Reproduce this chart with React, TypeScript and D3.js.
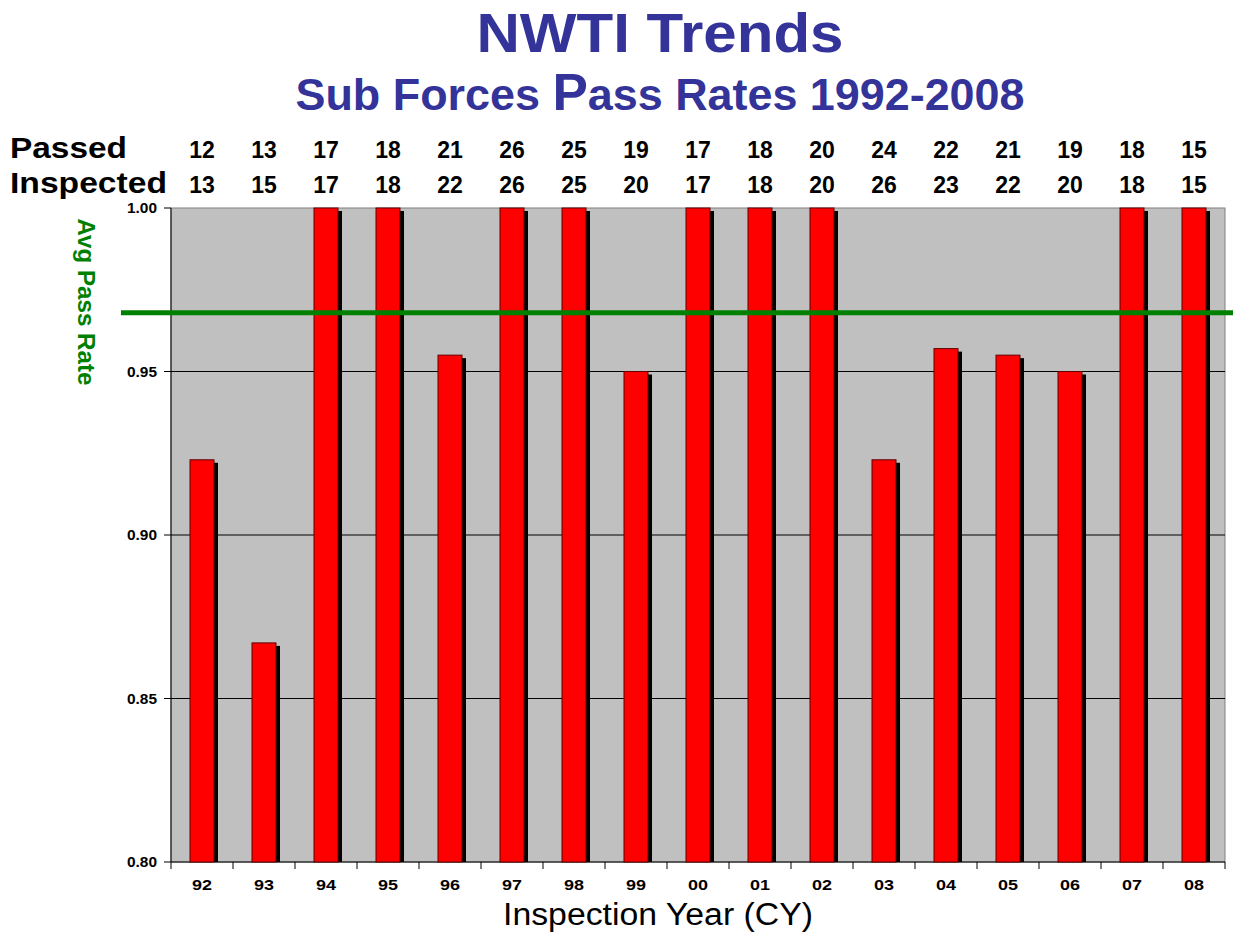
import React from "react";
import * as d3 from "d3";

const years = ["92","93","94","95","96","97","98","99","00","01","02","03","04","05","06","07","08"];
const passed = [12,13,17,18,21,26,25,19,17,18,20,24,22,21,19,18,15];
const inspected = [13,15,17,18,22,26,25,20,17,18,20,26,23,22,20,18,15];
const passRates = [0.923,0.867,1.0,1.0,0.955,1.0,1.0,0.95,1.0,1.0,1.0,0.923,0.957,0.955,0.95,1.0,1.0];
const avgPassRate = 0.968;
const yTicks = [0.8,0.85,0.9,0.95,1.0];

const W = 1233, H = 935;
const left = 171, right = 1225, top = 208, bottom = 862;
const font = "'Liberation Sans', Arial, sans-serif";
const navy = "#333399";

export default function App() {
  const x = d3.scaleBand<string>().domain(years).range([left, right]).padding(0);
  const y = d3.scaleLinear().domain([0.8, 1.0]).range([bottom, top]);
  const barW = 24;
  const step = x.step();
  return (
    <svg width={W} height={H} style={{ position: "absolute", left: 0, top: 0, background: "#fff" }} fontFamily={font}>
      {/* titles */}
      <text x={660} y={52} textAnchor="middle" fontSize={56} fontWeight="bold" fill={navy} textLength={367} lengthAdjust="spacingAndGlyphs">NWTI Trends</text>
      <text x={660} y={110} textAnchor="middle" fontSize={44} fontWeight="bold" fill={navy} textLength={729} lengthAdjust="spacingAndGlyphs">
        Sub Forces <tspan fontSize={52}>P</tspan>ass Rates 1992-2008
      </text>
      {/* table rows */}
      <text x={10} y={158} fontSize={29} fontWeight="bold" fill="#000" textLength={117} lengthAdjust="spacingAndGlyphs">Passed</text>
      <text x={10} y={193} fontSize={29} fontWeight="bold" fill="#000" textLength={157} lengthAdjust="spacingAndGlyphs">Inspected</text>
      {years.map((yr, i) => (
        <g key={"t" + yr}>
          <text x={(x(yr) as number) + step / 2} y={158} textAnchor="middle" fontSize={23} fontWeight="bold">{passed[i]}</text>
          <text x={(x(yr) as number) + step / 2} y={193} textAnchor="middle" fontSize={23} fontWeight="bold">{inspected[i]}</text>
        </g>
      ))}
      {/* plot background */}
      <rect x={left} y={top} width={right - left} height={bottom - top} fill="#c0c0c0" stroke="#808080" strokeWidth={1} />
      {/* gridlines */}
      {yTicks.filter(t => t > 0.8 && t < 1.0).map(t => (
        <line key={"g" + t} x1={left} x2={right} y1={y(t)} y2={y(t)} stroke="#000" strokeWidth={1} />
      ))}
      {/* y axis */}
      <line x1={left} x2={left} y1={top} y2={bottom} stroke="#000" strokeWidth={1} />
      {yTicks.map(t => (
        <g key={"yt" + t}>
          <line x1={left - 7} x2={left} y1={y(t)} y2={y(t)} stroke="#000" />
          <text x={157} y={y(t) + 5} textAnchor="end" fontSize={14} fontWeight="bold" textLength={30} lengthAdjust="spacingAndGlyphs">{t.toFixed(2)}</text>
        </g>
      ))}
      {/* x axis */}
      <line x1={left} x2={right} y1={bottom} y2={bottom} stroke="#000" strokeWidth={1} />
      {years.map((yr) => (
        <line key={"xt" + yr} x1={x(yr) as number} x2={x(yr) as number} y1={bottom} y2={bottom + 7} stroke="#000" />
      ))}
      <line x1={right} x2={right} y1={bottom} y2={bottom + 7} stroke="#000" />
      {years.map(yr => (
        <text key={"xl" + yr} x={(x(yr) as number) + step / 2} y={890} textAnchor="middle" fontSize={15} fontWeight="bold" textLength={20} lengthAdjust="spacingAndGlyphs">{yr}</text>
      ))}
      {/* bars */}
      {years.map((yr, i) => {
        const bx = (x(yr) as number) + (step - barW) / 2;
        const by = y(passRates[i]);
        return (
          <g key={"b" + yr}>
            <rect x={bx + 4} y={by + 3} width={barW} height={bottom - by - 3} fill="#000" />
            <rect x={bx} y={by} width={barW} height={bottom - by} fill="#ff0000" stroke="#600000" strokeWidth={1} />
          </g>
        );
      })}
      {/* average line */}
      <line x1={121} x2={W} y1={y(avgPassRate)} y2={y(avgPassRate)} stroke="#008000" strokeWidth={5} />
      <text transform={`translate(78,302) rotate(90)`} textAnchor="middle" fontSize={23} fontWeight="bold" fill="#008000" textLength={167} lengthAdjust="spacingAndGlyphs">Avg Pass Rate</text>
      {/* x axis title */}
      <text x={658} y={925} textAnchor="middle" fontSize={31} fill="#000" textLength={310} lengthAdjust="spacingAndGlyphs">Inspection Year (CY)</text>
    </svg>
  );
}
